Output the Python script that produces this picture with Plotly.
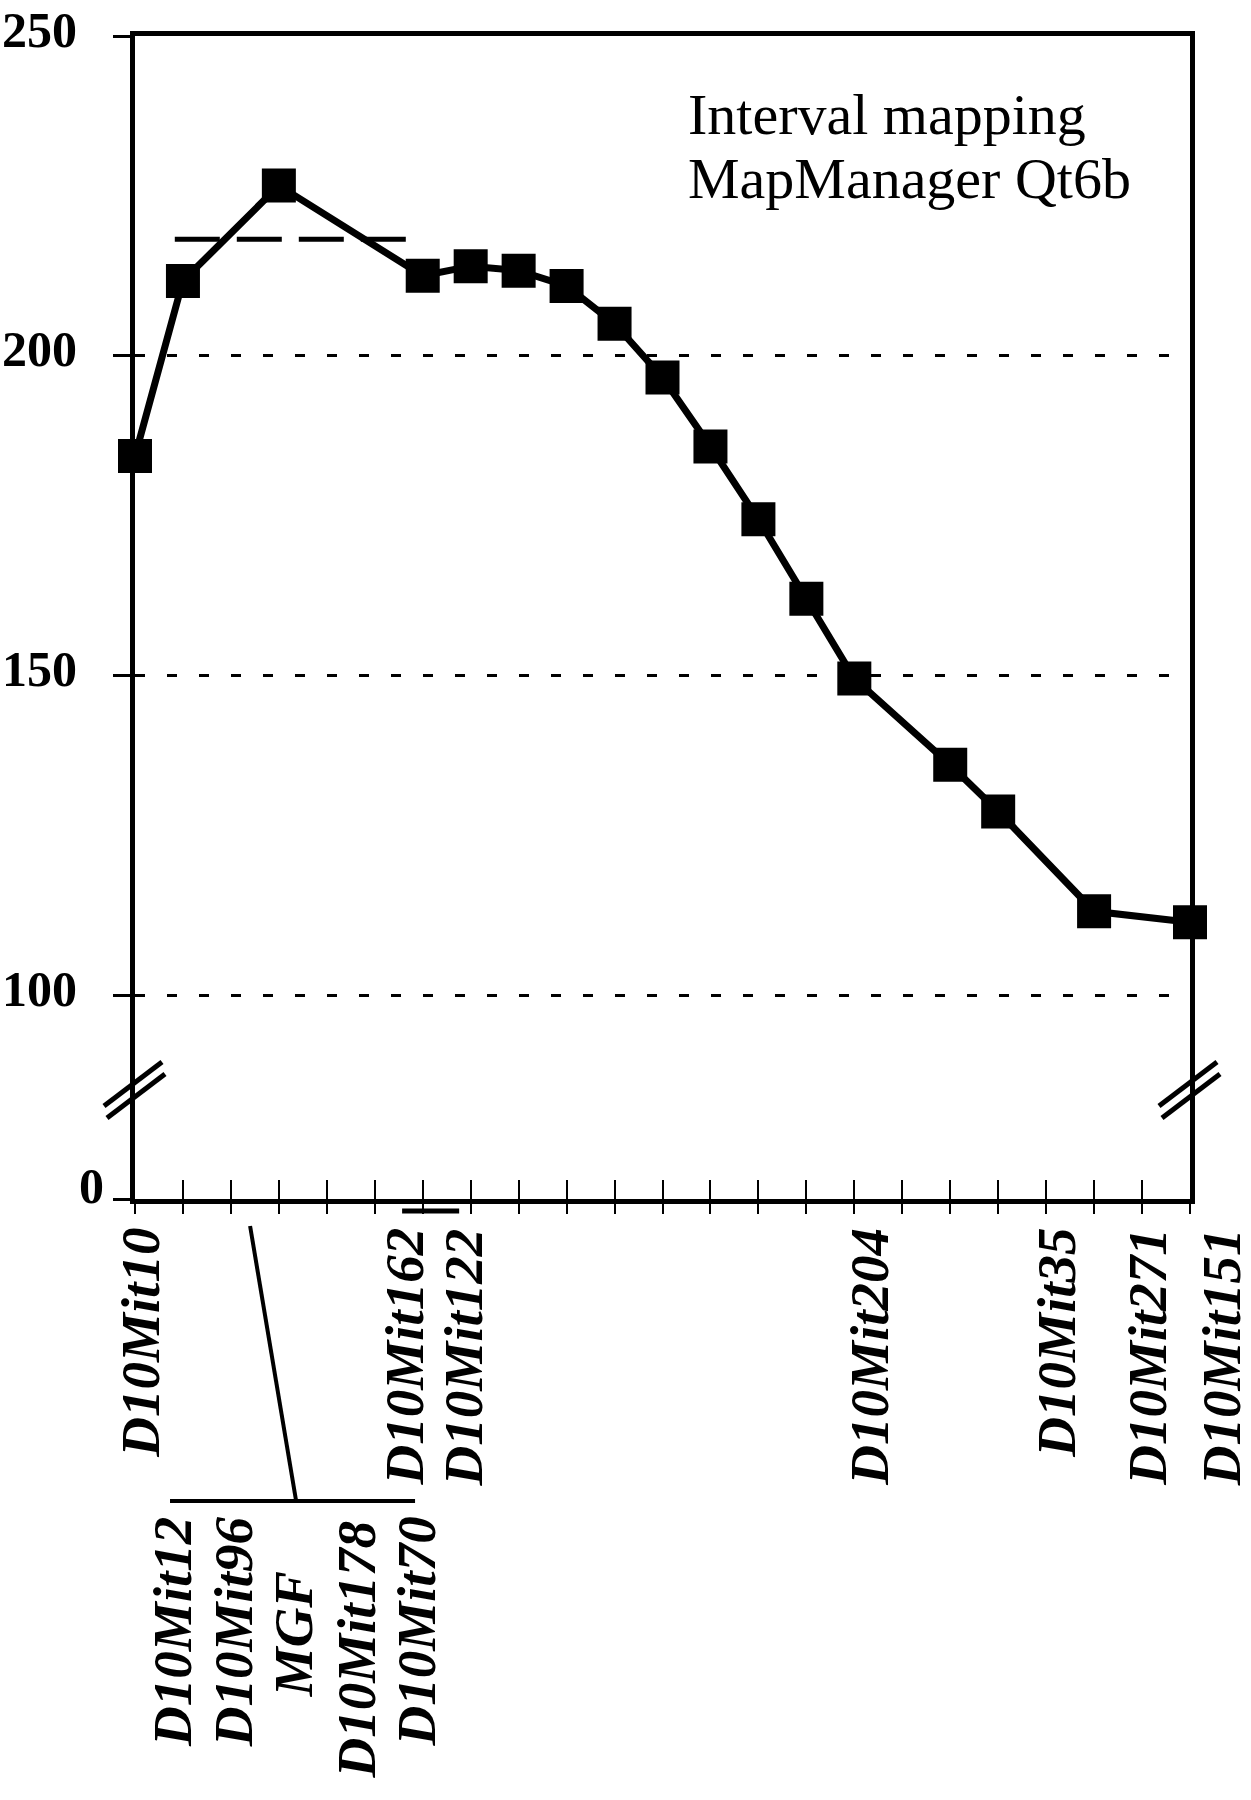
import plotly.graph_objects as go

# ---------------- data ----------------
positions = [0, 1, 3, 6, 7, 8, 9, 10, 11, 12, 13, 14, 15, 17, 18, 20, 22]
lrs = [184.3, 211.7, 226.6, 212.5, 214.0, 213.3, 210.9, 205.0, 196.6,
       185.8, 174.4, 162.0, 149.5, 136.0, 128.7, 113.1, 111.4]

threshold = 218.2
threshold_span = [0.83, 5.65]

ytick_vals = [100, 150, 200, 250]
ytick_text = ["100", "150", "200", "250"]
zero_label = "0"
x_ticks = list(range(0, 23))

top_markers = ["D10Mit10", "D10Mit162", "D10Mit122", "D10Mit204",
               "D10Mit35", "D10Mit271", "D10Mit151"]
top_marker_pos = [0.1, 5.6, 6.85, 15.3, 19.2, 21.1, 22.65]

cluster_markers = ["D10Mit12", "D10Mit96", "MGF", "D10Mit178", "D10Mit70"]
cluster_pos = [0.77, 2.05, 3.3, 4.6, 5.85]
cluster_center_row = [1632, 1632, 1634, 1650, 1632]
cluster_span = [0.73, 5.84]
cluster_link = [2.40, 3.36]     # map position of the cluster link line (top, bottom)
ci_span = [5.57, 6.76]          # short bar under the axis

title_lines = ["Interval mapping", "MapManager Qt6b"]

# ---------------- geometry ----------------
W, H = 1251, 1800
L, R, T, B = 135, 61, 36, 601
PW, PH = W - L - R, H - T - B
Y_ZERO = 68.1        # broken axis: the "0" sits here on the linear scale
Y_TOP = 250
XMAX = 22


def py(Y):
    """pixel row -> paper y"""
    return (H - B - Y) / PH


def px(X):
    return (X - L) / PW


SERIF = "Liberation Serif"

fig = go.Figure()

# threshold (dashed)
fig.add_trace(go.Scatter(
    x=threshold_span, y=[threshold, threshold], mode="lines",
    line=dict(color="black", width=5, dash="45px,17px"),
    hoverinfo="skip", showlegend=False))

# main LRS curve
fig.add_trace(go.Scatter(
    x=positions, y=lrs, mode="lines+markers",
    line=dict(color="black", width=7),
    marker=dict(symbol="square", size=34, color="black"),
    cliponaxis=False, showlegend=False))

# invisible trace on the overlaying axis so its ticks render
fig.add_trace(go.Scatter(x=[0], y=[Y_ZERO], xaxis="x2", mode="markers",
                         marker=dict(opacity=0), showlegend=False,
                         hoverinfo="skip"))

fig.update_layout(
    template="none",
    width=W, height=H,
    margin=dict(l=L, r=R, t=T, b=B, autoexpand=False),
    paper_bgcolor="white", plot_bgcolor="white",
    showlegend=False,
    xaxis=dict(range=[0, XMAX], tickvals=x_ticks, showticklabels=False,
               ticks="inside", ticklen=19, tickwidth=2, tickcolor="black",
               showline=True, linewidth=5, linecolor="black", mirror=True,
               showgrid=False, zeroline=False, automargin=False),
    xaxis2=dict(range=[0, XMAX], tickvals=x_ticks, showticklabels=False,
                overlaying="x", side="bottom", anchor="y",
                ticks="outside", ticklen=14, tickwidth=2, tickcolor="black",
                showline=False, showgrid=False, zeroline=False,
                automargin=False),
    yaxis=dict(range=[Y_ZERO, Y_TOP], tickvals=[Y_ZERO] + ytick_vals,
               ticktext=[""] + ytick_text,
               ticks="outside", ticklen=17, tickwidth=3, tickcolor="black",
               ticklabelstandoff=26, ticklabelshift=-7,
               tickfont=dict(family=SERIF, size=50, color="black", weight="bold"),
               showline=True, linewidth=5, linecolor="black", mirror=True,
               showgrid=True, gridcolor="black", gridwidth=2.5,
               griddash="10px,22px", zeroline=False, automargin=False),
)

annotations = []
# the "0" label of the broken axis
annotations.append(dict(
    text=zero_label, xref="paper", yref="y", x=px(106), y=Y_ZERO,
    xanchor="right", yanchor="middle", yshift=13, showarrow=False,
    font=dict(family=SERIF, size=50, color="black", weight="bold")))

# title text
for line, yc in zip(title_lines, [114, 179]):
    annotations.append(dict(
        text=line, xref="paper", yref="paper", x=px(686), y=py(yc),
        xanchor="left", yanchor="middle", showarrow=False,
        font=dict(family=SERIF, size=58, color="black")))

lab_font = dict(family=SERIF, size=55, color="black", weight="bold", style="italic")
for name, pos in zip(top_markers, top_marker_pos):
    annotations.append(dict(
        text=name, xref="paper", yref="paper", x=pos / XMAX, y=py(1226),
        xanchor="center", yanchor="top", textangle=-90, showarrow=False,
        font=lab_font))

for name, pos, row in zip(cluster_markers, cluster_pos, cluster_center_row):
    annotations.append(dict(
        text=name, xref="paper", yref="paper", x=pos / XMAX, y=py(row),
        xanchor="center", yanchor="middle", textangle=-90, showarrow=False,
        font=lab_font))

fig.update_layout(annotations=annotations)

shapes = []
# cluster bracket, link line, CI bar
shapes.append(dict(type="line", xref="x", yref="paper",
                   x0=cluster_span[0], x1=cluster_span[1], y0=py(1501), y1=py(1501),
                   line=dict(color="black", width=4)))
shapes.append(dict(type="line", xref="x", yref="paper",
                   x0=cluster_link[0], x1=cluster_link[1], y0=py(1226), y1=py(1501),
                   line=dict(color="black", width=4)))
shapes.append(dict(type="line", xref="x", yref="paper",
                   x0=ci_span[0], x1=ci_span[1], y0=py(1211), y1=py(1211),
                   line=dict(color="black", width=5)))

# axis-break double slashes on both vertical axes
for ax_x in [L, L + PW]:
    for dx, dy in [(-2, -6), (1, 6)]:
        cx, cy = ax_x + dx, 1090 + dy
        shapes.append(dict(type="line", xref="paper", yref="paper",
                           x0=px(cx - 29), y0=py(cy + 22),
                           x1=px(cx + 29), y1=py(cy - 22),
                           line=dict(color="black", width=5)))

fig.update_layout(shapes=shapes)

fig.write_html("out.html",
               config={"displayModeBar": False},
               post_script="document.body.style.margin='0';"
                           "document.body.style.overflow='hidden';")
